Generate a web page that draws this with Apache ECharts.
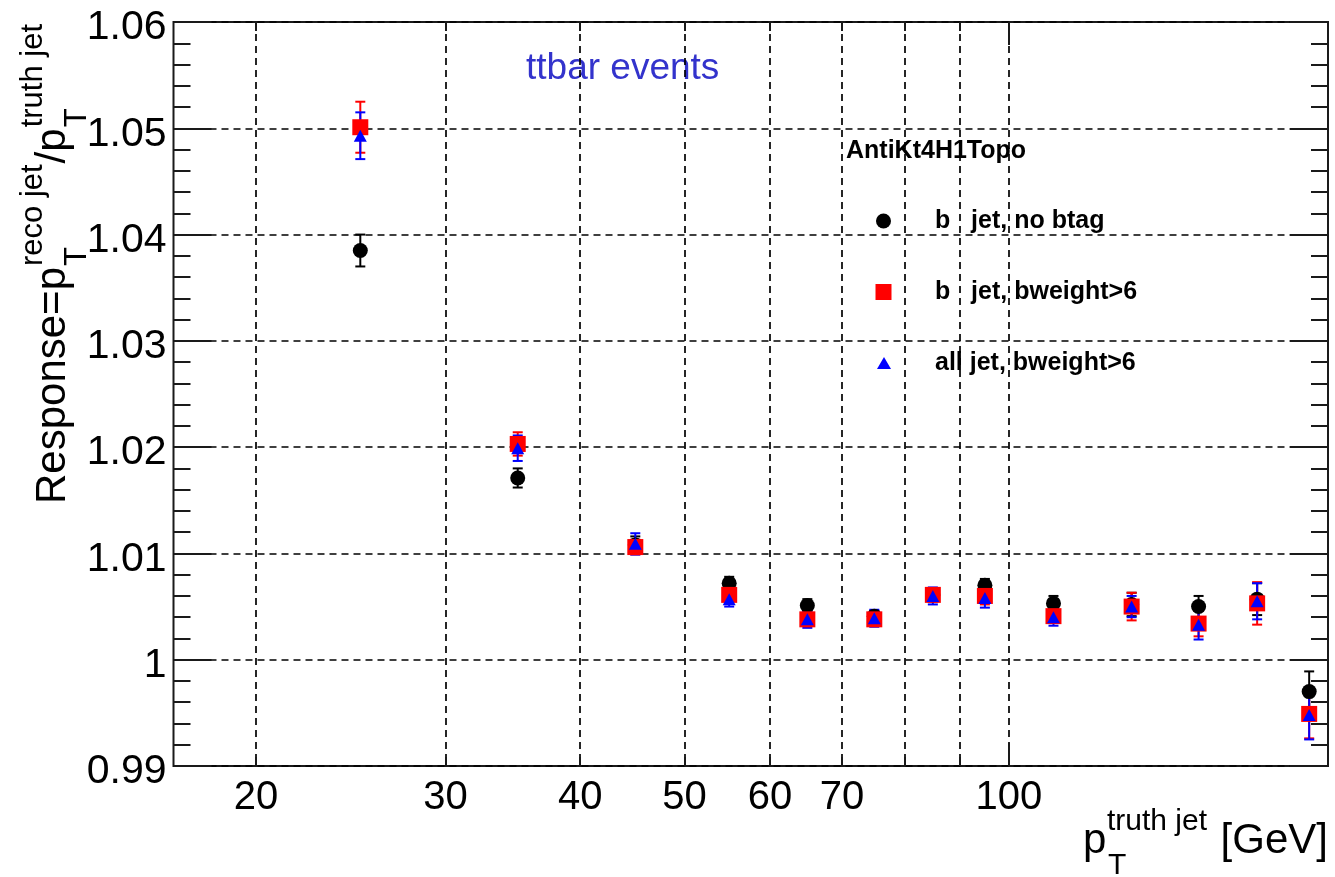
<!DOCTYPE html>
<html>
<head>
<meta charset="utf-8">
<title>Jet response vs truth pT</title>
<script src="https://cdn.jsdelivr.net/npm/echarts@6/dist/echarts.min.js"></script>
<style>
  html, body { margin: 0; padding: 0; background: #fff; }
  #chart { width: 1335px; height: 877px; }
</style>
</head>
<body>
<div id="chart"></div>
<script>
// Bin centres of truth-jet pT [GeV]
const ptCenters = [25, 35, 45, 55, 65, 75, 85, 95, 110, 130, 150, 170, 190];

// Response and its uncertainty per bin
const bJetNoTag      = [1.0385, 1.0171, 1.0108, 1.0072, 1.0051, 1.0041, 1.0061, 1.0070, 1.0053, 1.0052, 1.0050, 1.0057, 0.9970];
const bJetNoTagErr   = [0.0015, 0.0009, 0.0008, 0.0006, 0.0006, 0.0005, 0.0006, 0.0006, 0.0007, 0.0011, 0.0010, 0.0015, 0.0019];
const bJetTagged     = [1.0501, 1.0203, 1.0106, 1.0061, 1.0038, 1.0038, 1.0061, 1.0060, 1.0041, 1.0050, 1.0034, 1.0053, 0.9949];
const bJetTaggedErr  = [0.0024, 0.0011, 0.0007, 0.0006, 0.0006, 0.0006, 0.0006, 0.0008, 0.0006, 0.0013, 0.0012, 0.0020, 0.0023];
const allJetTagged   = [1.0493, 1.0199, 1.0109, 1.0057, 1.0038, 1.0039, 1.0060, 1.0058, 1.0040, 1.0050, 1.0033, 1.0055, 0.9948];
const allJetTaggedErr= [0.0022, 0.0012, 0.0010, 0.0007, 0.0008, 0.0008, 0.0008, 0.0009, 0.0008, 0.0010, 0.0014, 0.0017, 0.0023];

// Axis ticks
const xTickValues  = [20, 30, 40, 50, 60, 70, 80, 90, 100];
const xLabelValues = [20, 30, 40, 50, 60, 70, 100];
const xMajorTicks  = [100];
const xRange = [16.77, 197.8];
const yRange = [0.99, 1.06];

const FONT = 'Liberation Sans, Arial, Helvetica, sans-serif';
const INK = '#1a1a1a';

function triples(vals, errs) {
  return ptCenters.map((x, i) => [x, vals[i], errs[i]]);
}

function errorBarRenderer(color) {
  return function (params, api) {
    const x = api.value(0), y = api.value(1), e = api.value(2);
    const hi = api.coord([x, y + e]);
    const lo = api.coord([x, y - e]);
    const cap = 5;
    const style = { stroke: color, lineWidth: 2 };
    return {
      type: 'group',
      children: [
        { type: 'line', shape: { x1: hi[0], y1: hi[1], x2: lo[0], y2: lo[1] }, style },
        { type: 'line', shape: { x1: hi[0] - cap, y1: hi[1], x2: hi[0] + cap, y2: hi[1] }, style },
        { type: 'line', shape: { x1: lo[0] - cap, y1: lo[1], x2: lo[0] + cap, y2: lo[1] }, style }
      ]
    };
  };
}

function errorSeries(name, vals, errs, color) {
  return {
    name: name + ' err',
    type: 'custom',
    xAxisIndex: 0, yAxisIndex: 0,
    data: triples(vals, errs),
    encode: { x: 0, y: 1 },
    renderItem: errorBarRenderer(color),
    silent: true
  };
}

function markerSeries(name, vals, symbol, size, color) {
  return {
    name: name,
    type: 'scatter',
    xAxisIndex: 0, yAxisIndex: 0,
    data: ptCenters.map((x, i) => [x, vals[i]]),
    symbol: symbol,
    symbolSize: size,
    itemStyle: { color: color, opacity: 1 },
    silent: true
  };
}

const gridLine = { show: true, lineStyle: { type: [7, 5], color: '#000', width: 1.7 } };
const tickLine = { color: INK, width: 2 };

function xAxisDef(position, ticks, len, withLabels, withGrid) {
  return {
    type: 'log',
    logBase: 10,
    min: xRange[0], max: xRange[1],
    position: position,
    axisLine: { show: false },
    axisTick: { show: true, inside: true, length: len, customValues: ticks, lineStyle: tickLine },
    axisLabel: withLabels ? {
      show: true, customValues: xLabelValues, fontSize: 40, fontFamily: FONT, color: '#000', margin: 12,
      formatter: v => String(Math.round(v))
    } : { show: false },
    splitLine: withGrid ? gridLine : { show: false },
    minorTick: { show: false },
    minorSplitLine: { show: false }
  };
}

function yAxisDef(position, withLabels, withGrid) {
  return {
    type: 'value',
    min: yRange[0], max: yRange[1], interval: 0.01,
    position: position,
    axisLine: { show: false },
    axisTick: { show: true, inside: true, length: 38, lineStyle: tickLine },
    minorTick: { show: true, splitNumber: 5, length: 17, lineStyle: tickLine },
    axisLabel: withLabels ? {
      show: true, fontSize: 41, fontFamily: FONT, color: '#000', margin: 7,
      verticalAlign: 'top', lineHeight: 12,
      formatter: v => String(Math.round(v * 100) / 100)
    } : { show: false },
    splitLine: withGrid ? gridLine : { show: false }
  };
}

// Rotated axis title: Response = pT(reco jet) / pT(truth jet)
const yTitleStart = 504;
const mainSize = 42, scriptSize = 31;
const mainMid = 53, subMid = 77, supMid = 33;
function yTitlePiece(text, along, mid, size) {
  return {
    type: 'text', x: mid, y: yTitleStart - along, rotation: Math.PI / 2,
    style: { text: text, font: size + 'px ' + FONT, fill: '#000', align: 'left', verticalAlign: 'middle' },
    silent: true
  };
}
const wResp = 5642 * mainSize / 1000;        // "Response=p"
const wReco = 3279 * scriptSize / 1000;      // "reco jet"
const wSlash = 834 * mainSize / 1000;        // "/p"
const yTitle = [
  yTitlePiece('Response=p', 0, mainMid, mainSize),
  yTitlePiece('T', wResp + 1, subMid, scriptSize),
  yTitlePiece('reco jet', wResp + 1, supMid, scriptSize),
  yTitlePiece('/p', wResp + wReco + 2, mainMid, mainSize),
  yTitlePiece('T', wResp + wReco + wSlash + 3, subMid, scriptSize),
  yTitlePiece('truth jet', wResp + wReco + wSlash + 3, supMid, scriptSize)
];

function txt(text, x, y, size, opts) {
  opts = opts || {};
  return {
    type: 'text', x: x, y: y,
    style: {
      text: text, font: (opts.bold ? 'bold ' : '') + size + 'px ' + FONT,
      fill: opts.color || '#000', align: opts.align || 'left', verticalAlign: 'middle'
    },
    silent: true
  };
}

const xTitle = [
  txt('p', 1083, 841, 42),
  txt('T', 1108, 866, 30),
  txt('truth jet', 1107, 822, 30),
  txt('[GeV]', 1328, 841, 42, { align: 'right' })
];

const legendRowsY = [221, 292, 363];
const legendBlock = [
  txt('AntiKt4H1Topo', 846, 151, 25, { bold: true }),
  { type: 'circle', shape: { cx: 883.5, cy: legendRowsY[0], r: 7.5 }, style: { fill: '#000' }, silent: true },
  txt('b   jet, no btag', 935, legendRowsY[0], 25, { bold: true }),
  { type: 'rect', shape: { x: 875.5, y: legendRowsY[1] - 8, width: 16, height: 16 }, style: { fill: '#ff0000' }, silent: true },
  txt('b   jet, bweight>6', 935, legendRowsY[1], 25, { bold: true }),
  { type: 'polygon', shape: { points: [[884, legendRowsY[2] - 6], [877, legendRowsY[2] + 6], [891, legendRowsY[2] + 6]] }, style: { fill: '#0000ff' }, silent: true },
  txt('all jet, bweight>6', 935, legendRowsY[2], 25, { bold: true })
];

const chart = echarts.init(document.getElementById('chart'), null, { renderer: 'canvas' });
chart.setOption({
  animation: false,
  backgroundColor: '#fff',
  grid: {
    left: 173.5, top: 22, right: 7, bottom: 111,
    show: true, borderColor: INK, borderWidth: 2, backgroundColor: 'transparent'
  },
  xAxis: [
    xAxisDef('bottom', xTickValues, 9, true, true),
    xAxisDef('bottom', xMajorTicks, 23, false, false),
    xAxisDef('top', xTickValues, 9, false, false),
    xAxisDef('top', xMajorTicks, 23, false, false)
  ],
  yAxis: [
    yAxisDef('left', true, true),
    yAxisDef('right', false, false)
  ],
  series: [
    errorSeries('b jet, no btag', bJetNoTag, bJetNoTagErr, '#000000'),
    markerSeries('b jet, no btag', bJetNoTag, 'circle', 15, '#000000'),
    errorSeries('b jet, bweight>6', bJetTagged, bJetTaggedErr, '#ff0000'),
    markerSeries('b jet, bweight>6', bJetTagged, 'rect', 16, '#ff0000'),
    errorSeries('all jet, bweight>6', allJetTagged, allJetTaggedErr, '#0000ff'),
    markerSeries('all jet, bweight>6', allJetTagged, 'triangle', [13, 12], '#0000ff')
  ],
  graphic: {
    elements: [
      txt('ttbar events', 526, 69, 37, { color: '#3333cc' })
    ].concat(yTitle, xTitle, legendBlock)
  }
});
</script>
</body>
</html>
